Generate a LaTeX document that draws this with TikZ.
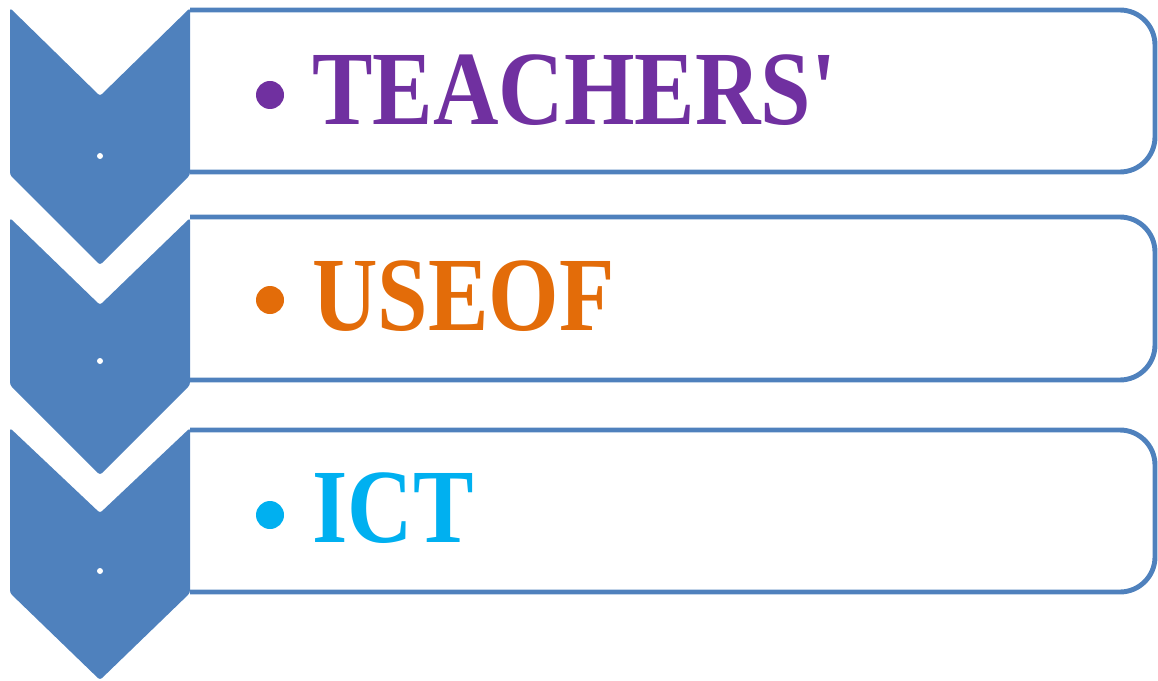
\documentclass[tikz,border=0pt]{standalone}
\usepackage{fontspec}
\setmainfont{Liberation Serif}
\usepackage{tikz}
\definecolor{chevblue}{HTML}{4F81BD}
\definecolor{teachpurple}{HTML}{7030A0}
\definecolor{useorange}{HTML}{E36C09}
\definecolor{ictcyan}{HTML}{00B0F0}
\begin{document}
\begin{tikzpicture}[x=0.2mm,y=-0.2mm,
    chev/.style = {fill=chevblue, rounded corners=1.5},
    panel/.style = {draw=chevblue, line width=2.8pt, rounded corners=20},
    dot/.style = {circle, fill, inner sep=0pt, minimum size=28*0.2mm},
    pip/.style = {circle, fill=white, inner sep=0pt, minimum size=6*0.2mm},
    word/.style = {anchor=base west, inner sep=0pt, xscale=0.86, transform shape,
                   font=\bfseries\fontsize{60}{60}\selectfont}]
\useasboundingbox (0,0) rectangle (1158,681);
\begin{scope}
    \draw[panel] (190,10) -- (1155,10) -- (1155,172) -- (190,172);
    \fill[chev] (10,8) -- (100,96) -- (190,8) -- (190,175) -- (100,265) -- (10,175) -- cycle;
    \node[pip] (p1) at (100,156) {};
    \node[dot,teachpurple] (b1) at (270,95) {};
    \node[word,teachpurple] (t1) at (312,125) {TEACHERS\textquotesingle};
\end{scope}
\begin{scope}[yshift=-4.36cm]
    \draw[panel] (190,-1) -- (1155,-1) -- (1155,162) -- (190,162);
    \fill[chev] (10,0) -- (100,87) -- (190,0) -- (190,167) -- (100,257) -- (10,167) -- cycle;
    \node[pip] (p2) at (100,143) {};
    \node[dot,useorange] (b2) at (270,82) {};
    \node[word,useorange] (t2) at (312,112) {USEOF};
\end{scope}
\begin{scope}[yshift=-8.56cm]
    \draw[panel] (190,2) -- (1155,2) -- (1155,164) -- (190,164);
    \fill[chev] (10,0) -- (100,85) -- (190,0) -- (190,165) -- (100,252) -- (10,165) -- cycle;
    \node[pip] (p3) at (100,143) {};
    \node[dot,ictcyan] (b3) at (270,87) {};
    \node[word,ictcyan] (t3) at (312,114) {ICT};
\end{scope}
\end{tikzpicture}
\end{document}
